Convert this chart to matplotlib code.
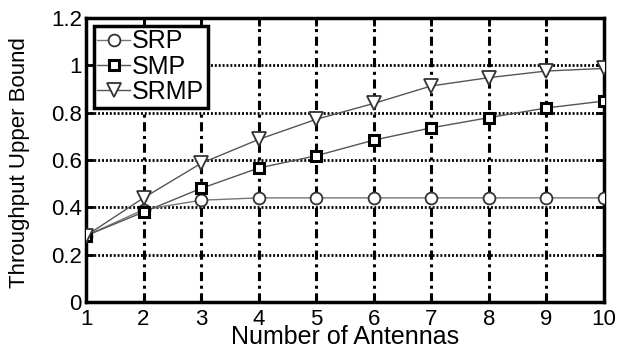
import matplotlib
matplotlib.use("Agg")
import matplotlib.pyplot as plt

antennas = [1, 2, 3, 4, 5, 6, 7, 8, 9, 10]
srp = [0.28, 0.39, 0.43, 0.44, 0.44, 0.44, 0.44, 0.44, 0.44, 0.44]
smp = [0.28, 0.38, 0.48, 0.566, 0.618, 0.684, 0.736, 0.779, 0.82, 0.849]
srmp = [0.28, 0.44, 0.586, 0.687, 0.772, 0.839, 0.913, 0.948, 0.976, 0.987]
yticks = [0, 0.2, 0.4, 0.6, 0.8, 1, 1.2]
ytick_labels = ["0", "0.2", "0.4", "0.6", "0.8", "1", "1.2"]

plt.rcParams['font.family'] = ['Liberation Sans', 'DejaVu Sans']

fig = plt.figure(figsize=(6.2, 3.49), dpi=100)
ax = fig.add_axes([86/620, 1 - 302/349, (604-86)/620, (302-18)/349])

ax.plot(antennas, srp, color='#777777', lw=1.0, marker='o', ms=8.5,
        mfc='white', mec='#333333', mew=1.3, label='SRP', zorder=5)
ax.plot(antennas, smp, color='#555555', lw=1.0, marker='s', ms=7.5,
        mfc='white', mec='black', mew=2.2, label='SMP', zorder=5)
ax.plot(antennas, srmp, color='#555555', lw=1.0, marker='v', ms=9.5,
        mfc='white', mec='#333333', mew=1.3, label='SRMP', zorder=5)

ax.set_xlim(1, 10)
ax.set_ylim(0, 1.2)
ax.set_xticks(antennas)
ax.set_yticks(yticks)
ax.set_yticklabels(ytick_labels)

for xv in antennas[1:-1]:
    ax.axvline(xv, color='black', lw=2.2, ls=(0, (3, 1.5, 1, 1.5)), zorder=1)
for yv in yticks[1:-1]:
    ax.axhline(yv, color='black', lw=2.0, ls=(0, (0.7, 0.7)), zorder=1)

for s in ax.spines.values():
    s.set_linewidth(2.5)
ax.tick_params(direction='in', length=6, width=2, labelsize=16, pad=3,
               top=True, right=True)
ax.tick_params(axis='x', pad=5)

ax.set_xlabel('Number of Antennas', fontsize=18)
ax.xaxis.set_label_coords(0.5, -0.08)
ax.set_ylabel('Throughput Upper Bound', fontsize=16)
ax.yaxis.set_label_coords(-0.108, 0.49)

leg = ax.legend(loc='upper left', fontsize=18, handlelength=1.3,
                handletextpad=0.1, borderpad=0.15, labelspacing=0.05,
                borderaxespad=0.3, fancybox=False, framealpha=1)
leg.get_frame().set_edgecolor('black')
leg.get_frame().set_linewidth(2.5)

fig.savefig('out.png', dpi=100)
